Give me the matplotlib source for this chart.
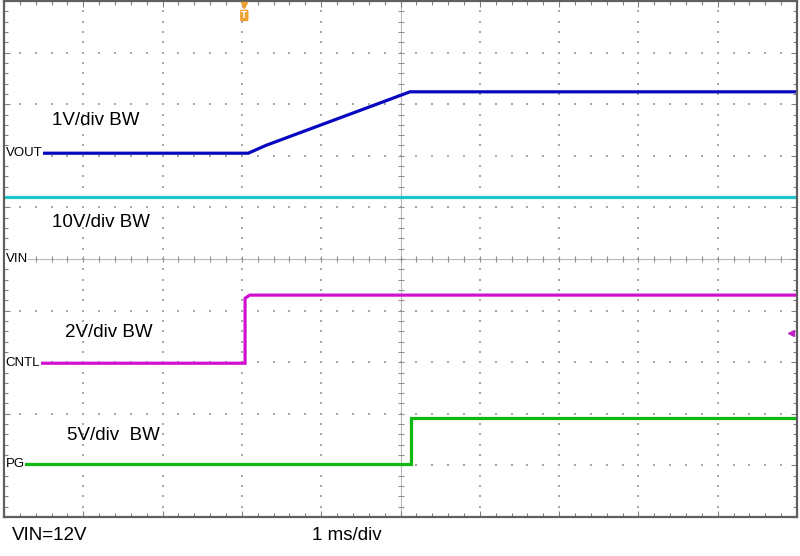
import numpy as np
import matplotlib.pyplot as plt

# scope traces, x in divisions (1 ms/div), y in divisions from screen centre
vout_t = [0.0, 3.08, 3.3, 5.12, 10.0]
vout_v = [2.05, 2.05, 2.2, 3.24, 3.24]

vin_t = [0.0, 10.0]
vin_v = [1.20, 1.20]

cntl_t = [0.0, 3.04, 3.04, 3.1, 10.0]
cntl_v = [-2.02, -2.02, -0.76, -0.70, -0.70]

pg_t = [0.0, 5.13, 5.13, 10.0]
pg_v = [-3.97, -3.97, -3.08, -3.08]

trigger_t = 3.03
cntl_marker = -1.43

channels = [
    ('VOUT', 2.05, vout_t, vout_v, '#0808c0'),
    ('VIN', 0.0, vin_t, vin_v, '#1ec4c8'),
    ('CNTL', -2.02, cntl_t, cntl_v, '#d010d0'),
    ('PG', -3.97, pg_t, pg_v, '#10b810'),
]

scales = [('1V/div BW', 2.68), ('10V/div BW', 0.70),
          ('2V/div BW', -1.43), ('5V/div  BW', -3.43)]
scale_x = [0.61, 0.61, 0.77, 0.80]


def main():
    fig = plt.figure(figsize=(8, 5.56), dpi=100)
    ax = fig.add_axes([4 / 800, 1 - 517 / 556, 793 / 800, 516 / 556])
    ax.set_xlim(0, 10)
    ax.set_ylim(-5, 5)

    # dotted graticule
    gc = '#a8a8a8'
    minor_x = np.arange(0, 10.01, 0.2)
    minor_y = np.arange(-5, 5.01, 0.2)
    for k in range(-4, 5):
        if k != 0:
            ax.scatter(minor_x, np.full_like(minor_x, k), s=1.0, marker='s',
                       color=gc, linewidths=0, zorder=1)
    for k in range(1, 10):
        if k != 5:
            ax.scatter(np.full_like(minor_y, k), minor_y, s=1.0, marker='s',
                       color=gc, linewidths=0, zorder=1)
    # centre cross with small ticks
    ax.axhline(0, color='#b8b8b8', lw=0.8, zorder=1)
    ax.axvline(5, color='#b8b8b8', lw=0.8, zorder=1)
    ax.plot(minor_x, np.zeros_like(minor_x), '|', color='#909090', ms=4, mew=0.8, zorder=1)
    ax.plot(np.full_like(minor_y, 5), minor_y, '_', color='#909090', ms=4, mew=0.8, zorder=1)

    ax.set_xticks(np.arange(0, 11, 1))
    ax.set_yticks(np.arange(-5, 6, 1))
    ax.set_xticks(minor_x, minor=True)
    ax.set_yticks(minor_y, minor=True)
    ax.tick_params(which='both', direction='in', top=True, right=True,
                   labelbottom=False, labelleft=False, color='#808080')
    ax.tick_params(which='major', length=4, width=0.8)
    ax.tick_params(which='minor', length=3, width=0.8)
    for s in ax.spines.values():
        s.set_color('#606060')
        s.set_linewidth(1.6)

    for name, gnd, t, v, c in channels:
        ax.plot(t, v, color=c, lw=2.3, zorder=2, solid_joinstyle='miter')
        ax.text(0.02, gnd, name, fontsize=9.5, family='Liberation Sans',
                ha='left', va='center', color='black', zorder=4,
                bbox=dict(facecolor='white', edgecolor='none', pad=0.5))

    for (label, y), x in zip(scales, scale_x):
        ax.text(x, y, label, fontsize=13.5, family='Liberation Sans',
                ha='left', va='center', color='black', zorder=4)

    # trigger marker and channel marker
    ax.plot([trigger_t], [4.93], marker='v', color='#f0a030', ms=5, clip_on=False, zorder=5)
    ax.text(trigger_t, 4.72, 'T', fontsize=6, color='white', fontweight='bold',
            ha='center', va='center', zorder=6,
            bbox=dict(boxstyle='round,pad=0.15', facecolor='#f0a030', edgecolor='none'))
    ax.plot([9.92], [cntl_marker], marker='<', color='#c020c0', ms=5, zorder=5)

    fig.text(12 / 800, 1 - 535 / 556, 'VIN=12V', fontsize=13.5,
             family='Liberation Sans', va='center', ha='left')
    fig.text(312 / 800, 1 - 535 / 556, '1 ms/div', fontsize=13.5,
             family='Liberation Sans', va='center', ha='left')

    fig.savefig('out.png', dpi=100)


if __name__ == '__main__':
    main()
